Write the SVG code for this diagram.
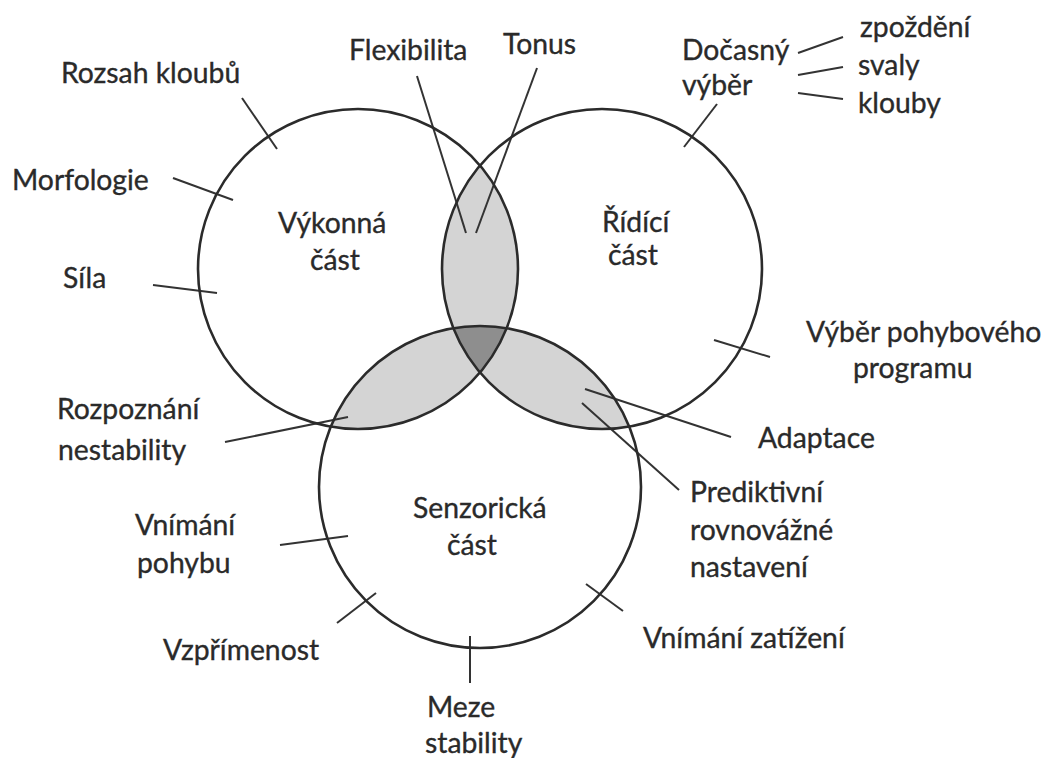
<svg xmlns="http://www.w3.org/2000/svg" width="1043" height="758" viewBox="0 0 1043 758">
  <defs>
    <clipPath id="clipV"><circle cx="358" cy="269" r="160"/></clipPath>
    <clipPath id="clipR"><circle cx="602" cy="269" r="160"/></clipPath>
    <clipPath id="clipS"><circle cx="480" cy="487" r="161"/></clipPath>
  </defs>
  <style>
    .ring { fill: none; stroke: #2b2b2b; stroke-width: 2.6; }
    .lens { fill: #d4d4d4; }
    .core { fill: #8e8e8e; }
    .tick { stroke: #333333; stroke-width: 2; fill: none; stroke-linecap: butt; }
    text { font-family: Lato, "Open Sans", "Liberation Sans", sans-serif; font-size: 28.3px; fill: #2a2a2a; stroke: #2a2a2a; stroke-width: 0.35; }
  </style>
  <rect width="1043" height="758" fill="#ffffff"/>

  <!-- shaded overlaps -->
  <g id="overlaps">
    <g clip-path="url(#clipR)"><circle class="lens" cx="358" cy="269" r="160"/></g>
    <g clip-path="url(#clipS)"><circle class="lens" cx="358" cy="269" r="160"/></g>
    <g clip-path="url(#clipS)"><circle class="lens" cx="602" cy="269" r="160"/></g>
    <g clip-path="url(#clipS)"><g clip-path="url(#clipR)"><circle class="core" cx="358" cy="269" r="160"/></g></g>
  </g>

  <!-- labels' leader lines -->
  <g id="connectors">
    <line class="tick" x1="242" y1="98" x2="277" y2="149"/>
    <line class="tick" x1="173" y1="178" x2="233" y2="200"/>
    <line class="tick" x1="153" y1="285" x2="217" y2="293"/>
    <line class="tick" x1="417" y1="76" x2="466" y2="233"/>
    <line class="tick" x1="537" y1="68" x2="476" y2="233"/>
    <line class="tick" x1="717" y1="104" x2="684" y2="147"/>
    <line class="tick" x1="798" y1="53" x2="843" y2="37"/>
    <line class="tick" x1="798" y1="75" x2="843" y2="67"/>
    <line class="tick" x1="798" y1="93" x2="843" y2="99"/>
    <line class="tick" x1="714" y1="340" x2="770" y2="357"/>
    <line class="tick" x1="585" y1="389" x2="731" y2="437"/>
    <line class="tick" x1="582" y1="403" x2="679" y2="490"/>
    <line class="tick" x1="586" y1="584" x2="623" y2="611"/>
    <line class="tick" x1="470" y1="636" x2="470" y2="683"/>
    <line class="tick" x1="376" y1="593" x2="337" y2="623"/>
    <line class="tick" x1="280" y1="545" x2="348" y2="536"/>
    <line class="tick" x1="225" y1="442" x2="348" y2="417"/>
  </g>

  <g id="vykonna">
    <circle class="ring" cx="358" cy="269" r="160"/>
    <text x="278" y="233">Výkonná</text>
    <text x="310" y="270">část</text>
  </g>
  <g id="ridici">
    <circle class="ring" cx="602" cy="269" r="160"/>
    <text x="602" y="232">Řídící</text>
    <text x="608" y="265">část</text>
  </g>
  <g id="senzoricka">
    <circle class="ring" cx="480" cy="487" r="161"/>
    <text x="413" y="518">Senzorická</text>
    <text x="447" y="555">část</text>
  </g>

  <g id="label-rozsah"><text x="61" y="83">Rozsah kloubů</text></g>
  <g id="label-morfologie"><text x="12" y="190">Morfologie</text></g>
  <g id="label-sila"><text x="63" y="288">Síla</text></g>
  <g id="label-flexibilita"><text x="349" y="60">Flexibilita</text></g>
  <g id="label-tonus"><text x="503" y="54">Tonus</text></g>
  <g id="label-docasny">
    <text x="682" y="60">Dočasný</text>
    <text x="682" y="95">výběr</text>
  </g>
  <g id="label-zpozdeni"><text x="860" y="37">zpoždění</text></g>
  <g id="label-svaly"><text x="858" y="75">svaly</text></g>
  <g id="label-klouby"><text x="858" y="113">klouby</text></g>
  <g id="label-vyber">
    <text x="806" y="342">Výběr pohybového</text>
    <text x="853" y="378">programu</text>
  </g>
  <g id="label-adaptace"><text x="758" y="448">Adaptace</text></g>
  <g id="label-prediktivni">
    <text x="690" y="502">Prediktivní</text>
    <text x="690" y="540">rovnovážné</text>
    <text x="690" y="577">nastavení</text>
  </g>
  <g id="label-zatizeni"><text x="643" y="648">Vnímání zatížení</text></g>
  <g id="label-meze">
    <text x="427" y="717">Meze</text>
    <text x="425" y="753">stability</text>
  </g>
  <g id="label-vzprimenost"><text x="163" y="660">Vzpřímenost</text></g>
  <g id="label-pohyb">
    <text x="135" y="535">Vnímání</text>
    <text x="137" y="573">pohybu</text>
  </g>
  <g id="label-rozpoznani">
    <text x="57" y="419">Rozpoznání</text>
    <text x="58" y="460">nestability</text>
  </g>
</svg>
